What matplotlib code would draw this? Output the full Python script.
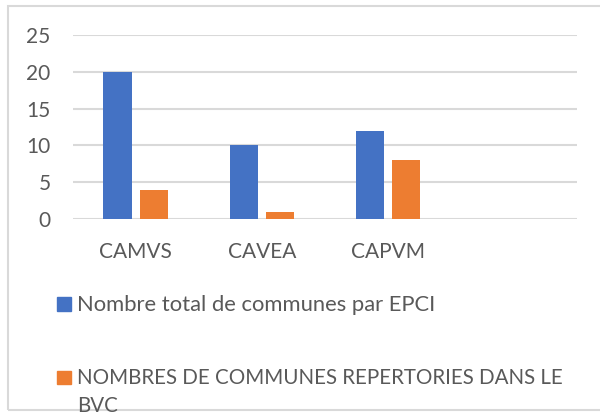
import matplotlib
matplotlib.use("Agg")
import matplotlib.pyplot as plt
from matplotlib.patches import Rectangle
import numpy as np

categories = ["CAMVS", "CAVEA", "CAPVM", ""]
series_names = ["Nombre total de communes par EPCI",
                "NOMBRES DE COMMUNES REPERTORIES DANS LE\nBVC"]
total_communes = [20, 10, 12, np.nan]
communes_bvc = [4, 1, 8, np.nan]
yticks = [0, 5, 10, 15, 20, 25]

colors = ["#4472C4", "#ED7D31"]
text_color = "#595959"
grid_color = "#d9d9d9"

plt.rcParams['font.family'] = ['Lato', 'DejaVu Sans']

fig = plt.figure(figsize=(6, 4.12), dpi=100)
W, H = 600, 412
ax = fig.add_axes([72.7 / W, 1 - 219.3 / H, (577.3 - 72.7) / W, (219.3 - 34.7) / H])

x = np.arange(len(categories))
bw = 0.226
off = 0.143
ax.bar(x - off, total_communes, bw, color=colors[0], zorder=3)
ax.bar(x + off, communes_bvc, bw, color=colors[1], zorder=3)

ax.set_xlim(-0.5, len(categories) - 0.5)
ax.set_ylim(0, 25)
ax.set_yticks(yticks)
ax.set_xticks(x)
ax.set_xticklabels(categories)
for s in ax.spines.values():
    s.set_visible(False)
ax.yaxis.grid(True, color=grid_color, lw=1.5, zorder=0)
ax.set_axisbelow(True)
ax.tick_params(axis='both', length=0, labelsize=15.0, labelcolor=text_color)
ax.tick_params(axis='y', pad=16)
ax.tick_params(axis='x', pad=16)

# legend drawn manually
leg_sq = [304, 377.5]
leg_base = [310.7, 384.3]
leg_size = [15.8, 14.8]
line_step = 28
for i, name in enumerate(series_names):
    yc = leg_sq[i]
    fig.patches.append(Rectangle((57.3 / W, 1 - (yc + 6.7) / H), 13.4 / W, 13.4 / H,
                                 transform=fig.transFigure, color=colors[i]))
    for j, line in enumerate(name.split("\n")):
        fig.text(77 / W, 1 - (leg_base[i] + j * line_step) / H, line,
                 fontsize=leg_size[i], color=text_color,
                 va='baseline', ha='left', transform=fig.transFigure)

# border
fig.patches.append(Rectangle((8 / W, 1 - 410 / H), 700 / W, 404 / H,
                             transform=fig.transFigure, fill=False,
                             edgecolor=grid_color, lw=1.5))

fig.savefig("out.png", dpi=100)
